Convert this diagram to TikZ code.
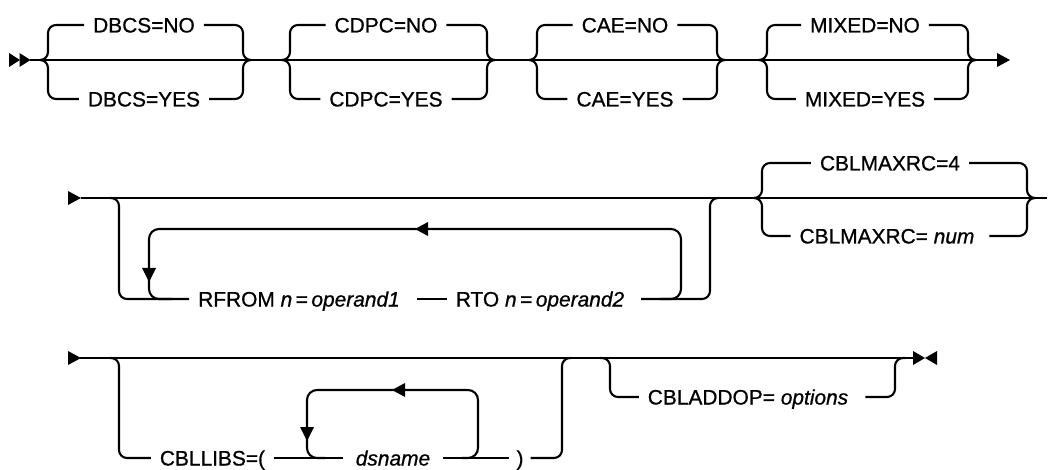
\documentclass[tikz,border=0pt]{standalone}
\usepackage{fontspec}
\setmainfont{Liberation Sans}[FakeBold=0.8]
\usetikzlibrary{arrows.meta}
\newcommand\rtri[3][13]{\fill (#2,#3-7) -- (#2+#1,#3) -- (#2,#3+7) -- cycle;}
\newcommand\ltri[3][13]{\fill (#2,#3-7) -- (#2-#1,#3) -- (#2,#3+7) -- cycle;}
\newcommand\dtri[2]{\fill (#1-7,#2-14) -- (#1,#2) -- (#1+7,#2-14) -- cycle;}
% choice group: #1 name, #2 left junction x, #3 right junction x, #4 label centre x,
% #5 ytop, #6 ymain, #7 ybot, #8 top text, #9 bottom text
\newcommand\choicegrp[9]{%
  \node[lbl] (#1t) at (#4,#5) {#8};
  \node[lbl] (#1b) at (#4,#7) {#9};
  \draw[rail] (#2,#6) -- (#2+8,#6) -- (#2+8,#5) -- (#1t.west);
  \draw[rail] (#2,#6) -- (#2+8,#6) -- (#2+8,#7) -- (#1b.west);
  \draw[rail] (#1t.east) -- (#3-8,#5) -- (#3-8,#6) -- (#3,#6);
  \draw[rail] (#1b.east) -- (#3-8,#7) -- (#3-8,#6) -- (#3,#6);
}
\begin{document}
\begin{tikzpicture}[x=1pt,y=-1pt,line width=2.1pt,
  rail/.style={rounded corners=8pt},
  loop/.style={rounded corners=10pt},
  lbl/.style={inner xsep=8pt,inner ysep=0pt,text height=15pt,text depth=0pt,
              font=\fontsize{20.9}{24}\selectfont}]
\useasboundingbox (0,0) rectangle (1052,470);

% ---------------- row 1 ----------------
\coordinate (r1s) at (30,60);
\coordinate (r1e) at (997,60);
\rtri[11]{9}{60}
\rtri[11]{19.5}{60}
\draw (r1s) -- (r1e);
\rtri{997}{60}
\choicegrp{dbcs}{40}{251}{144}{25}{60}{99}{DBCS=NO}{DBCS=YES}
\choicegrp{cdpc}{282}{495}{386}{25}{60}{99}{CDPC=NO}{CDPC=YES}
\choicegrp{cae}{529}{725}{625}{25}{60}{99}{CAE=NO}{CAE=YES}
\choicegrp{mix}{759}{976}{865}{25}{60}{99}{MIXED=NO}{MIXED=YES}

% ---------------- row 2 ----------------
\coordinate (r2s) at (81,198);
\coordinate (r2e) at (1047,198);
\rtri{68}{198}
\draw (r2s) -- (r2e);
\node[lbl] (rfrom) at (303,299) {RFROM \textit{n}\,=\,\textit{operand1}\hspace*{8pt}};
\node[lbl] (rto) at (544,299) {RTO \textit{n}\,=\,\textit{operand2}\hspace*{8pt}};
\draw[rail] (110,198) -- (119,198) -- (119,299) -- (rfrom.west);
\draw (rfrom.east) -- (rto.west);
\draw[rail] (rto.east) -- (710,299) -- (710,198) -- (719,198);
\draw[loop] (172,299) -- (149,299) -- (149,229) -- (681,229) -- (681,299) -- (660,299);
\dtri{149}{282}
\ltri{428}{229}
\choicegrp{cbm}{754}{1035}{890}{163}{198}{236}{CBLMAXRC=4}{CBLMAXRC= \textit{num}\hspace*{6pt}}

% ---------------- row 3 ----------------
\coordinate (r3s) at (80,358);
\coordinate (r3e) at (913,358);
\rtri{68}{358}
\draw (r3s) -- (r3e);
\rtri[12]{913}{358}
\ltri[12]{937}{358}
\node[lbl] (cbl) at (212.5,458) {CBLLIBS=(};
\node[lbl,inner xsep=12pt] (dsn) at (393,458) {\textit{dsname}};
\node[lbl,inner xsep=6pt] (par) at (520,458) {)};
\draw[rail] (110,358) -- (119,358) -- (119,458) -- (cbl.west);
\draw (cbl.east) -- (dsn.west);
\draw (dsn.east) -- (par.west);
\draw[rail] (par.east) -- (562,458) -- (562,358) -- (571,358);
\draw[loop] (325,458) -- (307,458) -- (307,390) -- (478,390) -- (478,458) -- (462,458);
\dtri{307}{441}
\ltri{405}{390}
\node[lbl] (cba) at (752,397) {CBLADDOP= \textit{options}\hspace*{8pt}};
\draw[rail] (600,358) -- (610,358) -- (610,397) -- (cba.west);
\draw[rail] (cba.east) -- (895,397) -- (895,358) -- (905,358);
\end{tikzpicture}
\end{document}
